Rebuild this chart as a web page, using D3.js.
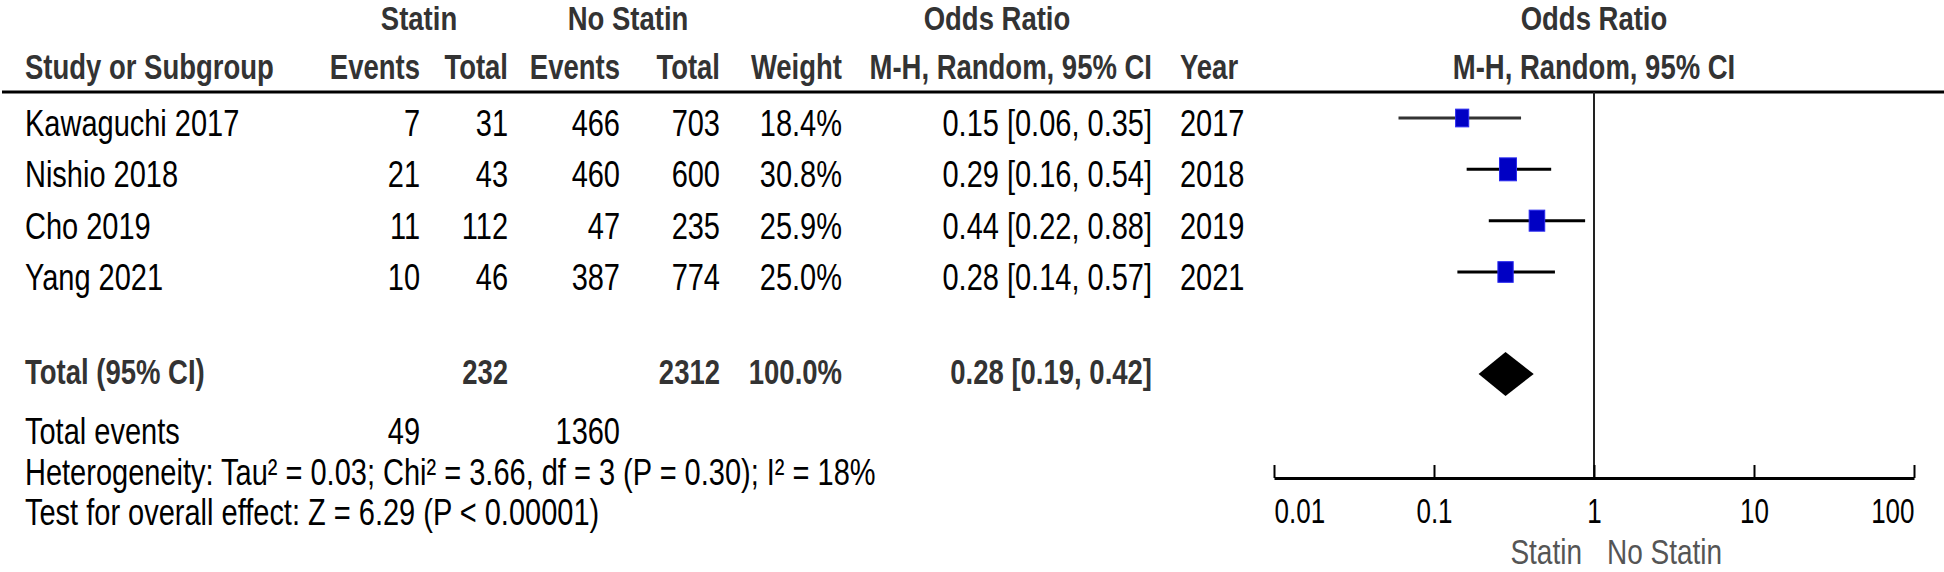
<!DOCTYPE html>
<html>
<head>
<meta charset="utf-8">
<script src="https://cdn.jsdelivr.net/npm/d3@7"></script>
<style>
  body { margin: 0; background: #fff; }
  text { font-family: "Liberation Sans", Arial, sans-serif; }
</style>
</head>
<body>
<svg id="chart" width="1944" height="572"></svg>
<script>
// study data
const studies = ["Kawaguchi 2017", "Nishio 2018", "Cho 2019", "Yang 2021"];
const statinEvents = [7, 21, 11, 10];
const statinTotal = [31, 43, 112, 46];
const noStatinEvents = [466, 460, 47, 387];
const noStatinTotal = [703, 600, 235, 774];
const weights = [18.4, 30.8, 25.9, 25.0];
const oddsRatio = [0.15, 0.29, 0.44, 0.28];
const ciLow = [0.06, 0.16, 0.22, 0.14];
const ciHigh = [0.35, 0.54, 0.88, 0.57];
const years = [2017, 2018, 2019, 2021];

// pooled
const pooledOR = [0.28, 0.19, 0.42];
const totalN = [232, 2312];
const totalWeight = 100.0;
const totalEvents = [49, 1360];
const heterogeneity = "Heterogeneity: Tau\u00b2 = 0.03; Chi\u00b2 = 3.66, df = 3 (P = 0.30); I\u00b2 = 18%";
const overallTest = "Test for overall effect: Z = 6.29 (P < 0.00001)";

const axisTicks = [0.01, 0.1, 1, 10, 100];

const SY = 1.25;
const ROW_FONT = 29;
const HEAD_FONT = 27.5;

// column right edges
const COL = { ev1: 420, tot1: 508, ev2: 620, tot2: 720, weight: 842, or: 1152, year: 1180 };

const svg = d3.select("#chart");

const x = d3.scaleLog().domain([0.01, 100]).range([1274, 1914]);
const y = d3.scalePoint().domain(studies).range([118, 272]);
const side = d3.scaleSqrt().domain([0, 100]).range([0, 30.6]);

const txt = (px, py, s, opt = {}) =>
  svg.append("text")
    .attr("transform", `translate(${px},${py}) scale(1,${opt.sy || SY})`)
    .attr("text-anchor", opt.anchor || "start")
    .attr("font-size", opt.size || ROW_FONT)
    .attr("font-weight", opt.bold ? "bold" : "normal")
    .attr("fill", opt.fill || "#000")
    .text(s);

const head = (px, py, s, anchor, sy) =>
  txt(px, py, s, { anchor: anchor, size: HEAD_FONT, bold: true, fill: "#333", sy: sy });

// header
head((330 + COL.tot1) / 2, 30, "Statin", "middle", 1.18);
head((536 + COL.tot2) / 2, 30, "No Statin", "middle", 1.18);
head(997, 30, "Odds Ratio", "middle", 1.18);
head(x(1), 30, "Odds Ratio", "middle", 1.18);

head(25, 79, "Study or Subgroup");
head(COL.ev1, 79, "Events", "end");
head(COL.tot1, 79, "Total", "end");
head(COL.ev2, 79, "Events", "end");
head(COL.tot2, 79, "Total", "end");
head(COL.weight, 79, "Weight", "end");
head(COL.or, 79, "M-H, Random, 95% CI", "end");
head(COL.year, 79, "Year");
head(x(1), 79, "M-H, Random, 95% CI", "middle");

svg.append("line")
  .attr("x1", 2).attr("x2", 1944)
  .attr("y1", 92).attr("y2", 92)
  .attr("stroke", "#000").attr("stroke-width", 3);

// study rows
const fmt2 = d3.format(".2f");
studies.forEach((s, i) => {
  const by = y(s) + 18;
  txt(25, by, s);
  txt(COL.ev1, by, statinEvents[i], { anchor: "end" });
  txt(COL.tot1, by, statinTotal[i], { anchor: "end" });
  txt(COL.ev2, by, noStatinEvents[i], { anchor: "end" });
  txt(COL.tot2, by, noStatinTotal[i], { anchor: "end" });
  txt(COL.weight, by, d3.format(".1f")(weights[i]) + "%", { anchor: "end" });
  txt(COL.or, by, `${fmt2(oddsRatio[i])} [${fmt2(ciLow[i])}, ${fmt2(ciHigh[i])}]`, { anchor: "end" });
  txt(COL.year, by, years[i]);
});

// total row
const totY = 384;
const totStyle = { bold: true, fill: "#333", size: HEAD_FONT };
txt(25, totY, "Total (95% CI)", totStyle);
txt(COL.tot1, totY, totalN[0], { ...totStyle, anchor: "end" });
txt(COL.tot2, totY, totalN[1], { ...totStyle, anchor: "end" });
txt(COL.weight, totY, d3.format(".1f")(totalWeight) + "%", { ...totStyle, anchor: "end" });
txt(COL.or, totY, `${fmt2(pooledOR[0])} [${fmt2(pooledOR[1])}, ${fmt2(pooledOR[2])}]`, { ...totStyle, anchor: "end" });

txt(25, 444, "Total events");
txt(COL.ev1, 444, totalEvents[0], { anchor: "end" });
txt(COL.ev2, 444, totalEvents[1], { anchor: "end" });
txt(25, 485, heterogeneity);
txt(25, 525, overallTest);

// forest plot
const axisY = 478;
svg.append("line")
  .attr("x1", x(1)).attr("x2", x(1))
  .attr("y1", 92).attr("y2", axisY)
  .attr("stroke", "#222").attr("stroke-width", 2);

const rows = svg.append("g");
rows.selectAll("line.ci")
  .data(studies)
  .join("line")
  .attr("class", "ci")
  .attr("x1", (d, i) => x(ciLow[i]))
  .attr("x2", (d, i) => x(ciHigh[i]))
  .attr("y1", d => y(d)).attr("y2", d => y(d))
  .attr("stroke", (d, i) => i === 0 ? "#333" : "#000")
  .attr("stroke-width", 3);

rows.selectAll("rect")
  .data(studies)
  .join("rect")
  .attr("x", (d, i) => x(oddsRatio[i]) - side(weights[i]) / 2)
  .attr("y", (d, i) => y(d) - side(weights[i]) * 1.35 / 2)
  .attr("width", (d, i) => side(weights[i]))
  .attr("height", (d, i) => side(weights[i]) * 1.35)
  .attr("fill", "#0000c4")
  .attr("stroke", "#2a2af0")
  .attr("stroke-width", 1);

const dY = 374, dH = 22;
svg.append("path")
  .attr("d", `M${x(pooledOR[1])},${dY} L${x(pooledOR[0])},${dY - dH} L${x(pooledOR[2])},${dY} L${x(pooledOR[0])},${dY + dH} Z`)
  .attr("fill", "#000");

const axis = d3.axisBottom(x)
  .tickValues(axisTicks)
  .tickFormat(d3.format("~g"))
  .tickSizeInner(-13)
  .tickSizeOuter(0);

const ag = svg.append("g")
  .attr("transform", `translate(0,${axisY})`)
  .call(axis);
ag.select(".domain").attr("stroke", "#000").attr("stroke-width", 3);
ag.selectAll(".tick line").attr("stroke", "#000").attr("stroke-width", 2);
ag.selectAll(".tick text")
  .attr("y", 0).attr("dy", null)
  .attr("transform", "translate(0,45) scale(1,1.35)")
  .attr("font-size", 26)
  .attr("font-family", "'Liberation Sans', Arial, sans-serif")
  .attr("fill", "#000")
  .attr("text-anchor", (d, i) => i === 0 ? "start" : i === axisTicks.length - 1 ? "end" : "middle");

txt(x(1) - 12, 564, "Statin", { anchor: "end", size: 28, fill: "#555" });
txt(x(1) + 13, 564, "No Statin", { size: 28, fill: "#555" });
</script>
</body>
</html>
